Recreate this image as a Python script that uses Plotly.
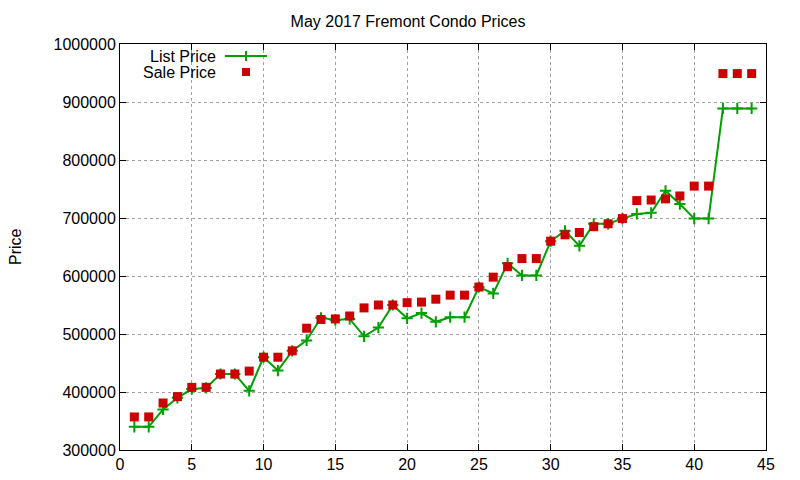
import plotly.graph_objects as go

# Fremont condo sales, May 2017 (one entry per sale, sorted by price)
sale_no = list(range(1, 45))
list_price = [340000, 340000, 370000, 390000, 405000, 407000, 431000, 431000, 402000, 460000,
              437000, 471000, 489000, 528000, 524000, 526000, 496000, 511000, 550000, 527000,
              536000, 521000, 529000, 529000, 581000, 570000, 622000, 601000, 601000, 660000,
              678000, 652000, 690000, 690000, 699000, 707000, 709000, 747000, 724000, 699000,
              699000, 889000, 889000, 889000]
sale_price = [357000, 357000, 381000, 392000, 408000, 408000, 431000, 431000, 436000, 460000,
              460000, 471000, 510000, 525000, 526000, 531000, 545000, 550000, 550000, 554000,
              555000, 560000, 567000, 567000, 581000, 598000, 616000, 630000, 630000, 660000,
              671000, 675000, 685000, 690000, 699000, 730000, 731000, 733000, 738000, 755000,
              755000, 949000, 949000, 949000]

x_ticks = list(range(0, 50, 5))
y_ticks = list(range(300000, 1100000, 100000))

GREEN = "rgb(0,160,0)"
RED = "rgb(204,0,0)"
FONT = "Liberation Sans, Arial, sans-serif"

fig = go.Figure()
fig.add_trace(go.Scatter(x=sale_no, y=list_price, name="List Price", mode="lines+markers",
                         line=dict(color=GREEN, width=2),
                         marker=dict(symbol="cross-thin", size=8, line=dict(color=GREEN, width=2))))
fig.add_trace(go.Scatter(x=sale_no, y=sale_price, name="Sale Price", mode="markers",
                         marker=dict(symbol="square", size=9, color=RED)))

axis_style = dict(showline=True, linecolor="black", linewidth=1, mirror="ticks",
                  ticks="inside", ticklen=6, tickcolor="black",
                  showgrid=True, gridcolor="#a0a0a0", griddash="dot", gridwidth=1,
                  zeroline=False, tickfont=dict(family=FONT, size=16, color="black"))

fig.update_xaxes(range=[0, 45], tickvals=x_ticks, **axis_style)
fig.update_yaxes(range=[300000, 1000000], tickvals=y_ticks, tickformat="d", **axis_style)

# gnuplot-style key: text on the left, sample on the right
key_x = 0.1517
fig.add_annotation(x=key_x, y=0.9704, xref="paper", yref="paper", text="List Price",
                   showarrow=False, xanchor="right", yanchor="middle",
                   font=dict(family=FONT, size=16, color="black"))
fig.add_annotation(x=key_x, y=0.931, xref="paper", yref="paper", text="Sale Price",
                   showarrow=False, xanchor="right", yanchor="middle",
                   font=dict(family=FONT, size=16, color="black"))
fig.add_shape(type="line", xref="paper", yref="paper", x0=0.1625, x1=0.2276, y0=0.9704, y1=0.9704,
              line=dict(color=GREEN, width=2))
fig.add_shape(type="line", xref="paper", yref="paper", x0=0.195, x1=0.195, y0=0.9581, y1=0.9827,
              line=dict(color=GREEN, width=2))
fig.add_shape(type="rect", xref="paper", yref="paper", x0=0.1889, x1=0.2012, y0=0.9212, y1=0.9409,
              line=dict(width=0), fillcolor=RED)

fig.add_annotation(x=-0.1625, y=0.5, xref="paper", yref="paper", text="Price", textangle=-90,
                   showarrow=False, xanchor="center", yanchor="middle", borderpad=0,
                   font=dict(family=FONT, size=16, color="black"))

# page body has an 8px margin, so the margins are shifted to compensate
fig.update_layout(
    width=800, height=480,
    title=dict(text="May 2017 Fremont Condo Prices", x=0.5, xanchor="center",
               y=1 - 13 / 480, yanchor="middle", font=dict(family=FONT, size=16, color="black")),
    margin=dict(l=112, r=42, t=36, b=38),
    plot_bgcolor="white", paper_bgcolor="white",
    showlegend=False,
)

fig.write_html("out.html", config={"displayModeBar": False})
